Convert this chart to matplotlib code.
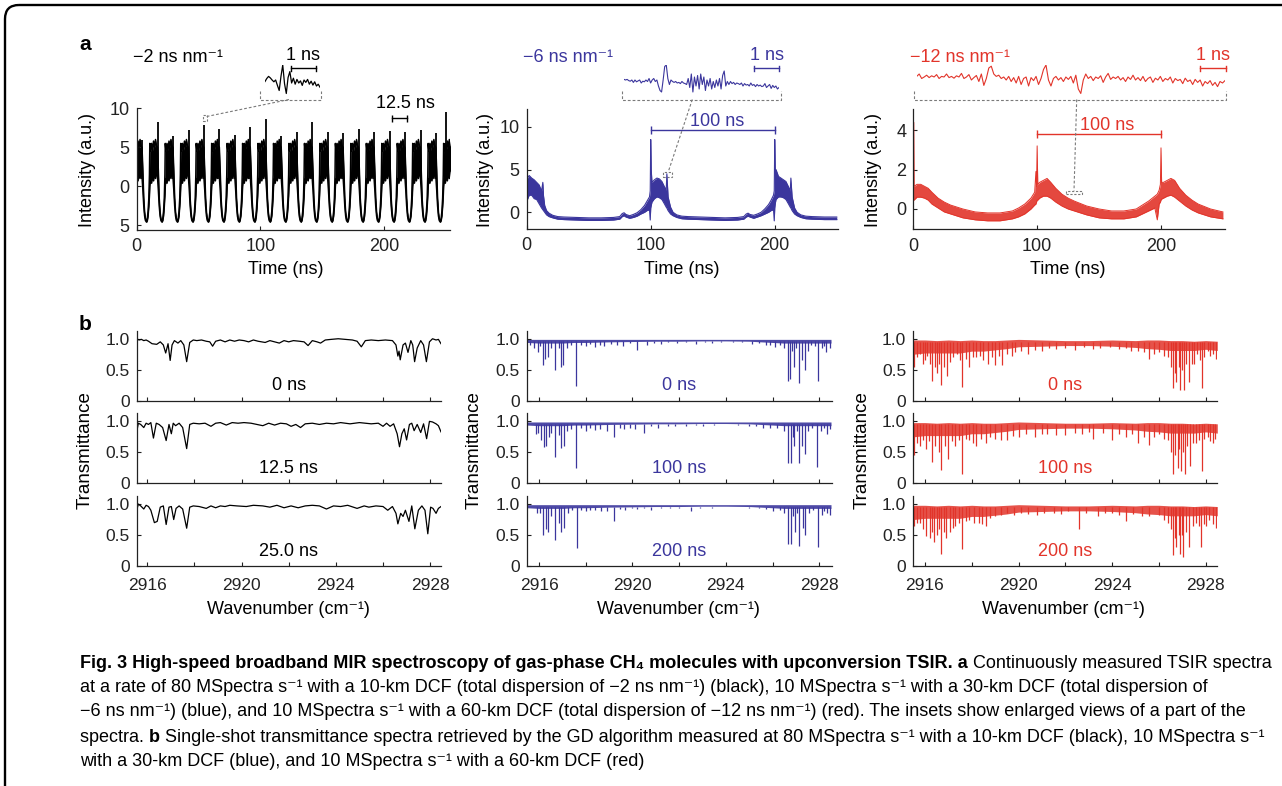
import matplotlib
matplotlib.use("Agg")
import matplotlib.pyplot as plt
from matplotlib.patches import FancyBboxPatch, Rectangle

W, H = 1282, 786
BLUE = "#3b369d"
RED = "#e2342a"
GRAY = "#7a7a7a"
AXC = "#222222"
FS = 13

plt.rcParams["font.family"] = ["Liberation Sans", "DejaVu Sans"]
plt.rcParams["axes.linewidth"] = 0.9
CAP_FONT = ["Liberation Sans Narrow", "DejaVu Sans Condensed", "Liberation Sans", "DejaVu Sans"]

# ---------------- panel a data ----------------
# a1 (-2 ns/nm): trough times, one-period shape (offset from trough) and spikes
a1_trough_t = [-4.5, 8.0, 20.5, 33.0, 45.5, 58.0, 70.5, 83.0, 95.5, 108.0, 120.5,
               133.0, 145.5, 158.0, 170.5, 183.0, 195.5, 208.0, 220.5, 233.0, 245.5]
a1_off = [0.0, 0.6, 1.2, 1.8, 2.3, 2.6, 3.2, 4.0, 4.8, 5.6, 6.4, 7.2, 8.0, 8.8, 9.5, 10.2, 10.9, 11.6, 12.5]
a1_lo = [-4.6, -4.4, -3.8, -2.6, -1.2, 0.0, 1.0, 0.4, 1.5, 0.7, 1.8, 1.0, 2.0, 1.2, -0.5, -2.5, -3.8, -4.4, -4.6]
a1_hi = [-4.4, -4.1, -3.2, -1.5, 1.5, 5.5, 4.5, 5.5, 4.6, 5.8, 5.0, 6.0, 5.2, 5.0, 2.0, -1.5, -3.3, -4.2, -4.4]
a1_spike_t = [0.4, 4.4, 16.9, 29.4, 41.9, 54.4, 66.9, 79.4, 91.9, 104.4, 116.9, 129.4, 141.9,
              154.4, 166.9, 179.4, 191.9, 204.4, 216.9, 229.4, 241.9, 250.0]
a1_spike_h = [7.0, 6.0, 8.2, 6.5, 7.2, 7.8, 7.4, 6.6, 7.6, 8.6, 6.4, 7.0, 8.2,
              7.0, 6.8, 7.3, 7.0, 7.1, 7.0, 7.2, 6.8, 9.5]

# a2 (-6 ns/nm): envelope of the trace
a2_t = [0, 0.3, 0.6, 2, 4, 6, 8, 10, 12, 13, 13.5, 14.5, 16, 18, 21, 25, 30, 40, 50, 60, 70, 75,
        77, 78.5, 80, 83, 86, 89, 92, 95, 97, 99, 99.6, 100, 100.4, 101, 103, 105, 107, 109,
        111, 112.5, 113, 114, 116, 118, 121, 125, 130, 140, 150, 160, 170, 175, 177, 178.5,
        180, 183, 186, 189, 192, 195, 197, 199, 199.6, 200, 200.4, 201, 203, 205, 207, 209,
        211, 212.5, 213, 214, 216, 218, 221, 225, 230, 240, 250]
a2_lo = [1.5, 1.0, 1.5, 2.0, 2.0, 1.6, 1.5, 1.0, 0.5, 0.3, 0.2, 0.0, -0.3, -0.5, -0.65, -0.8,
         -0.85, -0.9, -0.95, -0.95, -0.9, -0.8, -0.5, -0.4, -0.55, -0.7, -0.6, -0.45, -0.2,
         0.0, 0.2, 0.3, -0.9, 0.5, 0.8, 1.2, 1.6, 1.8, 1.7, 1.5, 1.0, 0.6, 0.5, 0.2, -0.2,
         -0.4, -0.6, -0.75, -0.8, -0.85, -0.9, -0.95, -0.9, -0.8, -0.55, -0.45, -0.55, -0.7,
         -0.55, -0.4, -0.2, 0.0, 0.2, 0.3, -1.0, 0.5, 1.0, 1.5, 1.8, 1.8, 1.7, 1.5, 1.0, 0.6,
         0.5, 0.2, -0.2, -0.4, -0.6, -0.75, -0.8, -0.85, -0.85]
a2_hi = [3.0, 10.5, 4.0, 4.3, 4.0, 3.8, 3.5, 3.2, 2.5, 3.5, 2.0, 0.8, 0.2, -0.1, -0.35, -0.5,
         -0.55, -0.6, -0.65, -0.65, -0.6, -0.5, -0.15, -0.05, -0.25, -0.4, -0.25, -0.05, 0.3,
         0.8, 1.3, 1.8, 2.5, 8.5, 5.0, 3.5, 3.8, 4.0, 3.9, 3.6, 3.0, 2.6, 4.5, 1.8, 0.6, 0.0,
         -0.3, -0.45, -0.5, -0.55, -0.6, -0.65, -0.6, -0.5, -0.2, -0.1, -0.25, -0.35, -0.2,
         0.0, 0.4, 0.9, 1.4, 2.0, 2.5, 8.5, 5.0, 5.0, 4.2, 4.0, 3.8, 3.6, 3.0, 2.5, 4.0, 1.8,
         0.5, 0.0, -0.3, -0.45, -0.5, -0.55, -0.55]

# a3 (-12 ns/nm): envelope of the trace
a3_t = [0, 0.3, 0.6, 3, 6, 9, 12, 15, 20, 25, 30, 40, 50, 60, 70, 80, 85, 90, 95, 98, 99,
        99.5, 100, 100.5, 102, 105, 108, 111, 115, 120, 125, 130, 140, 150, 160, 170, 180,
        185, 190, 195, 197, 198.5, 199.5, 200, 200.5, 202, 205, 208, 211, 215, 220, 225, 230,
        240, 250]
a3_lo = [0.45, 0.45, 0.45, 0.6, 0.6, 0.55, 0.45, 0.25, 0.05, -0.15, -0.25, -0.45, -0.55, -0.6, -0.6,
         -0.5, -0.4, -0.25, 0.0, 0.2, 0.25, 0.35, 0.45, 0.45, 0.55, 0.65, 0.65, 0.55, 0.35, 0.15,
         0.0, -0.1, -0.3, -0.45, -0.5, -0.5, -0.4, -0.25, -0.1, 0.05, -0.55, 0.25, 0.35,
         0.45, 0.5, 0.55, 0.65, 0.7, 0.6, 0.4, 0.15, -0.05, -0.2, -0.4, -0.5]
a3_hi = [1.15, 4.4, 1.15, 1.25, 1.25, 1.15, 1.05, 0.85, 0.55, 0.35, 0.2, 0.0, -0.15, -0.2, -0.2,
         -0.1, 0.05, 0.25, 0.55, 0.85, 1.9, 1.15, 3.2, 1.25, 1.35, 1.45, 1.55, 1.35, 1.05, 0.75, 0.55,
         0.4, 0.15, 0.0, -0.1, -0.1, 0.0, 0.2, 0.4, 0.65, 0.75, 0.95, 1.25, 3.1, 1.35, 1.35,
         1.45, 1.55, 1.45, 1.05, 0.7, 0.45, 0.25, 0.0, -0.15]

# insets (relative height inside the inset box)
a1_inset = [0.45, 0.55, 0.62, 0.57, 0.5, 0.44, 0.5, 0.32, 0.15, 0.62, 1.0, 0.38, 0.05, 0.58,
            0.78, 0.4, 0.56, 0.36, 0.52, 0.4, 0.47, 0.32, 0.5, 0.42, 0.52, 0.36, 0.46, 0.33,
            0.44, 0.3, 0.36, 0.26]
a2_inset = [0.52, 0.5, 0.52, 0.48, 0.46, 0.5, 0.42, 0.5, 0.44, 0.47, 0.5, 0.4, 0.46, 0.44,
            0.5, 0.45, 0.55, 0.4, 0.5, 0.55, 0.45, 0.5, 0.3, 0.15, 0.1, 0.5, 0.95, 1.0, 0.55,
            0.35, 0.5, 0.45, 0.42, 0.45, 0.4, 0.42, 0.38, 0.45, 0.4, 0.38, 0.35, 0.55, 0.25,
            0.7, 0.1, 0.6, 0.3, 0.65, 0.2, 0.7, 0.35, 0.6, 0.15, 0.5, 0.3, 0.55, 0.2, 0.45,
            0.25, 0.5, 0.3, 0.55, 0.2, 0.65, 0.8, 0.3, 0.45, 0.35, 0.45, 0.38, 0.42, 0.35,
            0.4, 0.38, 0.35, 0.4, 0.3, 0.38, 0.33, 0.35, 0.3, 0.4, 0.32, 0.35, 0.28, 0.35,
            0.3, 0.33, 0.28, 0.3, 0.38, 0.25, 0.3, 0.35, 0.22, 0.32, 0.25, 0.3, 0.2, 0.25]
a3_inset = [0.62, 0.7, 0.55, 0.6, 0.66, 0.58, 0.64, 0.6, 0.68, 0.55,
            0.62, 0.6, 0.7, 0.58, 0.62, 0.56, 0.64, 0.6, 0.72, 0.55,
            0.6, 0.68, 0.5, 0.58, 0.65, 0.45, 0.7, 0.32, 0.55, 0.9,
            0.96, 0.7, 0.62, 0.66, 0.55, 0.6, 0.5, 0.62, 0.45, 0.58,
            0.4, 0.62, 0.35, 0.55, 0.6, 0.3, 0.58, 0.48, 0.62, 0.35,
            0.55, 0.85, 1.0, 0.5, 0.3, 0.55, 0.62, 0.5, 0.58, 0.45,
            0.6, 0.52, 0.62, 0.4, 0.66, 0.2, 0.05, 0.5, 0.7, 0.55,
            0.62, 0.48, 0.6, 0.55, 0.64, 0.42, 0.6, 0.72, 0.52, 0.6,
            0.55, 0.62, 0.5, 0.58, 0.45, 0.6, 0.52, 0.66, 0.5, 0.58,
            0.48, 0.62, 0.45, 0.55, 0.6, 0.42, 0.56, 0.5, 0.62, 0.45,
            0.55, 0.5, 0.6, 0.4, 0.55, 0.48, 0.52, 0.38, 0.56, 0.45,
            0.5, 0.35, 0.52, 0.42, 0.5, 0.3, 0.45, 0.38, 0.48, 0.32,
            0.42, 0.28, 0.45, 0.4, 0.48]

# ---------------- panel b data ----------------
# black spectra (80 MSpectra/s): vertices of the traces
b1_wn0 = [2915.55, 2915.65, 2915.75, 2915.85, 2915.95, 2916.05, 2916.2, 2916.4, 2916.55, 2916.68,
          2916.78, 2916.88, 2916.97, 2917.05, 2917.15, 2917.3, 2917.42, 2917.55, 2917.67, 2917.8,
          2917.95, 2918.1, 2918.3, 2918.5, 2918.65, 2918.77, 2918.9, 2919.1, 2919.3, 2919.5,
          2919.7, 2919.9, 2920.1, 2920.3, 2920.5, 2920.7, 2921.0, 2921.2, 2921.4, 2921.6,
          2921.8, 2922.0, 2922.2, 2922.45, 2922.65, 2922.82, 2923.0, 2923.2, 2923.35, 2923.55,
          2923.8, 2924.1, 2924.4, 2924.7, 2924.9, 2925.08, 2925.25, 2925.5, 2925.8, 2926.1,
          2926.4, 2926.55, 2926.63, 2926.68, 2926.73, 2926.85, 2926.95, 2927.06, 2927.18, 2927.26,
          2927.34, 2927.45, 2927.6, 2927.72, 2927.84, 2927.97, 2928.1, 2928.25, 2928.35, 2928.46]
b1_T0 = [1.0, 0.98, 0.99, 0.97, 0.98, 0.96, 0.92, 0.91, 0.95, 0.9,
         0.77, 0.92, 0.65, 0.9, 0.97, 0.93, 0.97, 0.9, 0.63, 0.94,
         0.98, 0.97, 0.98, 0.96, 0.95, 0.88, 0.96, 0.98, 0.95, 0.98,
         0.96, 0.98, 0.97, 0.95, 0.98, 0.96, 0.94, 0.97, 0.95, 0.93,
         0.97, 0.95, 0.97, 0.96, 0.95, 0.89, 0.97, 0.95, 0.93, 0.98,
         0.99, 1.0, 0.99, 0.98, 0.96, 0.87, 0.97, 0.98, 0.97, 0.98,
         0.97, 0.9, 0.72, 0.8, 0.66, 0.9, 0.93, 0.78, 0.97, 0.9,
         0.63, 0.85, 0.97, 0.9, 0.63, 0.95, 1.0, 0.98, 0.99, 0.92]
b1_wn1 = [2915.55, 2915.62, 2915.72, 2915.85, 2915.95, 2916.05, 2916.15, 2916.26, 2916.38, 2916.5,
          2916.65, 2916.8, 2916.92, 2917.02, 2917.1, 2917.2, 2917.35, 2917.5, 2917.67, 2917.8,
          2917.95, 2918.2, 2918.45, 2918.7, 2918.9, 2919.1, 2919.35, 2919.6, 2919.85, 2920.1,
          2920.4, 2920.65, 2920.9, 2921.15, 2921.4, 2921.65, 2921.9, 2922.1, 2922.3, 2922.5,
          2922.7, 2923.0, 2923.3, 2923.6, 2923.9, 2924.2, 2924.6, 2925.0, 2925.5, 2925.8,
          2926.0, 2926.15, 2926.3, 2926.45, 2926.6, 2926.7, 2926.8, 2926.9, 2927.0, 2927.12,
          2927.22, 2927.32, 2927.45, 2927.6, 2927.72, 2927.85, 2927.97, 2928.1, 2928.25, 2928.35,
          2928.46]
b1_T1 = [0.83, 0.97, 0.95, 0.9, 0.97, 0.95, 0.98, 0.73, 0.97, 0.95,
         0.9, 0.69, 0.95, 0.8, 0.97, 0.93, 0.97, 0.9, 0.56, 0.95,
         0.97, 0.96, 0.97, 0.92, 0.97, 0.98, 0.94, 0.98, 0.97, 0.98,
         0.97, 0.95, 0.93, 0.97, 0.94, 0.97, 0.96, 0.92, 0.95, 0.9,
         0.96, 0.97, 0.95, 0.97, 0.96, 0.98, 0.96, 0.98, 0.96, 0.97,
         0.92, 0.97, 0.92, 0.96, 0.8, 0.59, 0.8, 0.88, 0.7, 0.95,
         0.97, 0.85, 0.95, 0.82, 0.96, 0.72, 1.0, 0.99, 0.96, 0.93,
         0.83]
b1_wn2 = [2915.55, 2915.62, 2915.72, 2915.85, 2915.95, 2916.05, 2916.15, 2916.3, 2916.42, 2916.55,
          2916.68, 2916.8, 2916.92, 2917.02, 2917.12, 2917.22, 2917.35, 2917.5, 2917.67, 2917.8,
          2917.95, 2918.2, 2918.5, 2918.7, 2918.9, 2919.1, 2919.3, 2919.5, 2919.8, 2920.2,
          2920.5, 2920.9, 2921.2, 2921.5, 2921.8, 2922.1, 2922.4, 2922.7, 2923.0, 2923.3,
          2923.6, 2923.9, 2924.2, 2924.5, 2924.9, 2925.2, 2925.4, 2925.7, 2926.0, 2926.2,
          2926.4, 2926.55, 2926.63, 2926.75, 2926.85, 2926.95, 2927.1, 2927.22, 2927.35, 2927.5,
          2927.65, 2927.78, 2927.9, 2928.02, 2928.12, 2928.25, 2928.35, 2928.46]
b1_T2 = [0.9, 1.0, 0.97, 0.92, 0.98, 0.96, 0.9, 0.7, 0.72, 0.95,
         0.97, 0.67, 0.95, 0.96, 0.75, 0.93, 0.97, 0.92, 0.61, 0.95,
         0.97, 0.96, 0.93, 0.97, 0.94, 0.97, 0.96, 0.98, 0.97, 0.96,
         0.98, 0.97, 0.95, 0.98, 0.94, 0.97, 0.94, 0.97, 0.98, 0.97,
         0.92, 0.97, 0.96, 0.98, 0.93, 0.97, 0.95, 0.97, 0.96, 0.9,
         0.96, 0.85, 0.68, 0.85, 0.8, 0.9, 0.72, 0.97, 0.6, 0.9,
         0.97, 0.9, 0.52, 0.95, 0.93, 0.85, 0.93, 0.96]

# blue spectra (10 MSpectra/s, 30-km DCF): baseline band + absorption dips (wn, T)
b2_env_wn = [2915.5, 2916, 2916.5, 2917, 2917.5, 2918, 2919, 2920, 2921, 2922, 2923, 2924,
             2925, 2926, 2926.5, 2927, 2927.5, 2928, 2928.5]
b2_env_lo = [0.94, 0.93, 0.93, 0.93, 0.94, 0.94, 0.95, 0.955, 0.96, 0.96, 0.965, 0.965,
             0.96, 0.94, 0.93, 0.93, 0.93, 0.93, 0.93]
b2_env_hi = [0.99, 0.99, 0.99, 0.99, 0.99, 0.99, 0.99, 0.99, 0.99, 0.99, 0.99, 0.99,
             0.99, 0.99, 0.99, 0.99, 0.99, 0.99, 0.99]
b2_dips0 = [(2915.6, 0.9), (2915.8, 0.85), (2915.95, 0.78), (2916.05, 0.88), (2916.16, 0.57),
            (2916.26, 0.68), (2916.38, 0.7), (2916.5, 0.85), (2916.7, 0.5), (2916.85, 0.85),
            (2916.94, 0.55), (2917.03, 0.57), (2917.2, 0.85), (2917.35, 0.9), (2917.6, 0.24),
            (2917.8, 0.9), (2918.0, 0.88), (2918.2, 0.92), (2918.4, 0.86), (2918.6, 0.9),
            (2918.8, 0.88), (2919.1, 0.92), (2919.35, 0.9), (2919.6, 0.89), (2919.9, 0.93),
            (2920.2, 0.82), (2920.6, 0.9), (2920.9, 0.93), (2921.2, 0.92), (2921.5, 0.94),
            (2921.9, 0.93), (2922.3, 0.94), (2922.7, 0.92), (2923.1, 0.94), (2923.4, 0.93),
            (2923.8, 0.95), (2924.3, 0.94), (2924.7, 0.95), (2925.1, 0.92), (2925.4, 0.93),
            (2925.7, 0.9), (2925.9, 0.9), (2926.1, 0.87), (2926.3, 0.9), (2926.5, 0.85),
            (2926.65, 0.32), (2926.75, 0.35), (2926.85, 0.8), (2926.92, 0.55), (2927.02, 0.85),
            (2927.12, 0.28), (2927.25, 0.65), (2927.4, 0.5), (2927.5, 0.8), (2927.65, 0.9),
            (2927.8, 0.88), (2927.95, 0.32), (2928.1, 0.85), (2928.2, 0.88), (2928.3, 0.78),
            (2928.45, 0.85)]
b2_dips1 = [(2915.6, 0.95), (2915.85, 0.8), (2915.95, 0.82), (2916.1, 0.7), (2916.2, 0.58),
            (2916.3, 0.6), (2916.42, 0.75), (2916.5, 0.82), (2916.7, 0.43), (2916.85, 0.78),
            (2916.95, 0.57), (2917.05, 0.6), (2917.2, 0.85), (2917.35, 0.88), (2917.6, 0.24),
            (2917.8, 0.9), (2918.0, 0.85), (2918.2, 0.9), (2918.4, 0.86), (2918.6, 0.88),
            (2918.9, 0.85), (2919.2, 0.75), (2919.45, 0.9), (2919.65, 0.88), (2919.9, 0.9),
            (2920.1, 0.88), (2920.5, 0.82), (2920.8, 0.92), (2921.1, 0.9), (2921.5, 0.92),
            (2921.8, 0.93), (2922.3, 0.93), (2922.7, 0.94), (2923.0, 0.93), (2923.5, 0.94),
            (2924.0, 0.95), (2924.5, 0.94), (2925.0, 0.92), (2925.3, 0.93), (2925.6, 0.9),
            (2925.9, 0.9), (2926.2, 0.9), (2926.5, 0.85), (2926.67, 0.32), (2926.77, 0.33),
            (2926.87, 0.75), (2926.93, 0.6), (2927.03, 0.85), (2927.12, 0.33), (2927.25, 0.6),
            (2927.4, 0.48), (2927.52, 0.85), (2927.7, 0.9), (2927.92, 0.26), (2928.08, 0.85),
            (2928.2, 0.9), (2928.32, 0.8), (2928.45, 0.88)]
b2_dips2 = [(2915.6, 0.95), (2915.9, 0.85), (2916.05, 0.85), (2916.18, 0.5), (2916.28, 0.6),
            (2916.38, 0.55), (2916.5, 0.8), (2916.7, 0.42), (2916.85, 0.7), (2916.95, 0.55),
            (2917.08, 0.62), (2917.25, 0.85), (2917.4, 0.9), (2917.62, 0.29), (2917.8, 0.9),
            (2918.0, 0.88), (2918.2, 0.9), (2918.4, 0.9), (2918.65, 0.88), (2918.9, 0.88),
            (2919.2, 0.73), (2919.45, 0.92), (2919.7, 0.9), (2920.0, 0.93), (2920.2, 0.92),
            (2920.5, 0.93), (2920.8, 0.9), (2921.2, 0.93), (2921.6, 0.93), (2922.0, 0.94),
            (2922.5, 0.88), (2922.9, 0.94), (2923.4, 0.94), (2924.0, 0.95), (2924.5, 0.95),
            (2925.0, 0.94), (2925.4, 0.93), (2925.7, 0.92), (2926.0, 0.88), (2926.3, 0.9),
            (2926.5, 0.85), (2926.67, 0.35), (2926.77, 0.36), (2926.87, 0.8), (2926.95, 0.55),
            (2927.05, 0.85), (2927.12, 0.33), (2927.28, 0.62), (2927.4, 0.5), (2927.55, 0.85),
            (2927.72, 0.9), (2927.93, 0.3), (2928.1, 0.82), (2928.22, 0.88), (2928.32, 0.85),
            (2928.45, 0.82)]

# red spectra (10 MSpectra/s, 60-km DCF): noisy band + absorption dips
b3_env_wn = [2915.5, 2916, 2916.5, 2917, 2917.5, 2918, 2918.5, 2919, 2919.5, 2920, 2921, 2922,
             2923, 2924, 2925, 2925.5, 2926, 2926.5, 2927, 2927.5, 2928, 2928.5]
b3_env_lo = [0.75, 0.77, 0.77, 0.77, 0.77, 0.8, 0.8, 0.82, 0.84, 0.87, 0.88, 0.89,
             0.89, 0.88, 0.86, 0.84, 0.83, 0.81, 0.81, 0.81, 0.83, 0.81]
b3_env_hi = [0.98, 0.98, 0.97, 0.98, 0.97, 0.98, 0.97, 0.97, 0.98, 0.99, 0.98, 0.97,
             0.97, 0.98, 0.97, 0.98, 0.98, 0.97, 0.97, 0.96, 0.97, 0.96]
b3_dips0 = [(2915.55, 0.55), (2915.65, 0.7), (2915.8, 0.75), (2915.9, 0.6), (2916.0, 0.65),
            (2916.1, 0.72), (2916.2, 0.6), (2916.3, 0.32), (2916.42, 0.55), (2916.5, 0.45),
            (2916.6, 0.6), (2916.7, 0.25), (2916.82, 0.55), (2916.95, 0.4), (2917.05, 0.62),
            (2917.2, 0.7), (2917.35, 0.75), (2917.5, 0.65), (2917.6, 0.22), (2917.75, 0.68),
            (2917.9, 0.55), (2918.05, 0.7), (2918.2, 0.7), (2918.35, 0.72), (2918.5, 0.65),
            (2918.7, 0.6), (2918.85, 0.7), (2919.0, 0.58), (2919.15, 0.72), (2919.3, 0.58),
            (2919.5, 0.75), (2919.7, 0.72), (2919.85, 0.78), (2920.1, 0.8), (2920.4, 0.75),
            (2920.7, 0.82), (2921.0, 0.8), (2921.3, 0.85), (2921.6, 0.83), (2922.0, 0.85),
            (2922.4, 0.82), (2922.8, 0.86), (2923.2, 0.84), (2923.5, 0.85), (2923.9, 0.86),
            (2924.3, 0.83), (2924.6, 0.85), (2924.8, 0.8), (2925.1, 0.8), (2925.35, 0.78),
            (2925.6, 0.67), (2925.8, 0.75), (2926.0, 0.78), (2926.2, 0.72), (2926.4, 0.7),
            (2926.5, 0.55), (2926.6, 0.2), (2926.68, 0.45), (2926.75, 0.3), (2926.85, 0.55),
            (2926.92, 0.18), (2927.0, 0.5), (2927.08, 0.18), (2927.18, 0.6), (2927.3, 0.3),
            (2927.42, 0.6), (2927.5, 0.6), (2927.62, 0.75), (2927.75, 0.65), (2927.85, 0.2),
            (2927.95, 0.7), (2928.1, 0.8), (2928.2, 0.72), (2928.3, 0.75), (2928.45, 0.68)]
b3_dips1 = [(2915.55, 0.45), (2915.65, 0.65), (2915.8, 0.6), (2915.9, 0.7), (2916.05, 0.55),
            (2916.15, 0.68), (2916.3, 0.35), (2916.42, 0.6), (2916.6, 0.5), (2916.7, 0.22),
            (2916.85, 0.6), (2917.0, 0.4), (2917.15, 0.68), (2917.3, 0.6), (2917.45, 0.7),
            (2917.6, 0.15), (2917.75, 0.72), (2917.9, 0.7), (2918.05, 0.65), (2918.2, 0.6),
            (2918.4, 0.72), (2918.6, 0.65), (2918.8, 0.75), (2919.0, 0.72), (2919.25, 0.7),
            (2919.5, 0.7), (2919.75, 0.76), (2920.0, 0.75), (2920.3, 0.8), (2920.7, 0.75),
            (2921.0, 0.8), (2921.2, 0.8), (2921.6, 0.78), (2922.0, 0.78), (2922.4, 0.82),
            (2922.7, 0.8), (2923.0, 0.83), (2923.2, 0.72), (2923.6, 0.82), (2924.0, 0.7),
            (2924.3, 0.8), (2924.6, 0.75), (2924.85, 0.8), (2925.1, 0.65), (2925.35, 0.75),
            (2925.6, 0.62), (2925.8, 0.75), (2926.0, 0.8), (2926.2, 0.72), (2926.4, 0.7),
            (2926.5, 0.5), (2926.6, 0.15), (2926.7, 0.45), (2926.8, 0.25), (2926.88, 0.55),
            (2926.95, 0.2), (2927.02, 0.5), (2927.1, 0.15), (2927.2, 0.6), (2927.35, 0.28),
            (2927.48, 0.65), (2927.6, 0.65), (2927.72, 0.7), (2927.85, 0.2), (2927.95, 0.72),
            (2928.1, 0.75), (2928.2, 0.68), (2928.3, 0.65), (2928.42, 0.72)]
b3_dips2 = [(2915.55, 0.65), (2915.65, 0.7), (2915.8, 0.7), (2915.9, 0.6), (2916.05, 0.48),
            (2916.2, 0.45), (2916.3, 0.55), (2916.4, 0.38), (2916.5, 0.5), (2916.6, 0.6),
            (2916.7, 0.2), (2916.82, 0.55), (2916.9, 0.45), (2917.05, 0.55), (2917.2, 0.62),
            (2917.3, 0.65), (2917.45, 0.7), (2917.6, 0.27), (2917.75, 0.72), (2917.9, 0.75),
            (2918.1, 0.7), (2918.3, 0.7), (2918.45, 0.68), (2918.6, 0.65), (2918.8, 0.78),
            (2919.0, 0.8), (2919.25, 0.82), (2919.5, 0.85), (2919.8, 0.82), (2920.1, 0.85),
            (2920.4, 0.84), (2920.8, 0.82), (2921.1, 0.86), (2921.5, 0.85), (2921.8, 0.84),
            (2922.1, 0.88), (2922.6, 0.6), (2922.9, 0.86), (2923.4, 0.8), (2923.7, 0.86),
            (2924.0, 0.85), (2924.3, 0.82), (2924.6, 0.72), (2924.9, 0.84), (2925.3, 0.8),
            (2925.6, 0.8), (2926.0, 0.82), (2926.2, 0.75), (2926.4, 0.7), (2926.5, 0.6),
            (2926.6, 0.18), (2926.68, 0.45), (2926.75, 0.3), (2926.85, 0.5), (2926.9, 0.2),
            (2926.98, 0.5), (2927.05, 0.15), (2927.15, 0.55), (2927.3, 0.3), (2927.45, 0.65),
            (2927.6, 0.7), (2927.7, 0.65), (2927.8, 0.3), (2927.92, 0.68), (2928.0, 0.65),
            (2928.15, 0.75), (2928.3, 0.68), (2928.45, 0.62)]

a_texts = ["\u22122 ns nm\u207b\u00b9", "\u22126 ns nm\u207b\u00b9", "\u221212 ns nm\u207b\u00b9"]
b_row_labels = [["0 ns", "12.5 ns", "25.0 ns"],
                ["0 ns", "100 ns", "200 ns"],
                ["0 ns", "100 ns", "200 ns"]]

caption = [
    [("Fig. 3 High-speed broadband MIR spectroscopy of gas-phase CH\u2084 molecules with upconversion TSIR. a", True),
     (" Continuously measured TSIR spectra", False)],
    [("at a rate of 80 MSpectra s\u207b\u00b9 with a 10-km DCF (total dispersion of \u22122 ns nm\u207b\u00b9) (black), "
      "10 MSpectra s\u207b\u00b9 with a 30-km DCF (total dispersion of", False)],
    [("\u22126 ns nm\u207b\u00b9) (blue), and 10 MSpectra s\u207b\u00b9 with a 60-km DCF (total dispersion of "
      "\u221212 ns nm\u207b\u00b9) (red). The insets show enlarged views of a part of the", False)],
    [("spectra. ", False), ("b", True),
     (" Single-shot transmittance spectra retrieved by the GD algorithm measured at 80 MSpectra s\u207b\u00b9 "
      "with a 10-km DCF (black), 10 MSpectra s\u207b\u00b9", False)],
    [("with a 30-km DCF (blue), and 10 MSpectra s\u207b\u00b9 with a 60-km DCF (red)", False)],
]

# ---------------- figure ----------------
fig = plt.figure(figsize=(W / 100, H / 100), dpi=100)


def box(l, t, r, b):
    return [l / W, 1 - b / H, (r - l) / W, (b - t) / H]


def style_axes(ax, xpad=6, size=FS):
    for s in ["top", "right"]:
        ax.spines[s].set_visible(False)
    for s in ["left", "bottom"]:
        ax.spines[s].set_color(AXC)
    ax.tick_params(direction="in", length=3, width=0.8, colors=AXC, labelsize=size)
    ax.tick_params(axis="x", pad=xpad)
    ax.tick_params(axis="y", pad=5)
    ax.patch.set_alpha(0)


# a1
ax1 = fig.add_axes(box(136.7, 108.3, 449.7, 230))
t_all, lo_all, hi_all = [], [], []
for tm in a1_trough_t:
    for off, lo, hi in zip(a1_off, a1_lo, a1_hi):
        t_all.append(tm + off)
        lo_all.append(lo)
        hi_all.append(hi)
ax1.fill_between(t_all, lo_all, hi_all, color="black", lw=0)
ax1.plot(t_all, lo_all, color="black", lw=1.1)
ax1.plot(t_all, hi_all, color="black", lw=1.1)
ax1.vlines(a1_spike_t, 1.0, a1_spike_h, color="black", lw=1.3)
ax1.set_xlim(0, 253)
ax1.set_ylim(-5.6, 10)
ax1.set_yticks([-5, 0, 5, 10])
ax1.set_yticklabels(["5", "0", "5", "10"])
ax1.set_xticks([0, 100, 200])
ax1.add_patch(Rectangle((53.8, 8.4), 2.8, 0.75, fill=False, ec=GRAY, lw=0.8, ls=(0, (2, 1.5)), clip_on=False))
ax1.plot([206, 218.5], [8.7, 8.7], color="black", lw=1.0, clip_on=False)
ax1.vlines([206, 218.5], 8.3, 9.1, color="black", lw=1.0, clip_on=False)
style_axes(ax1)

# a2
ax2 = fig.add_axes(box(526.7, 109, 838, 229))
ax2.fill_between(a2_t, a2_lo, a2_hi, color=BLUE, lw=0)
ax2.plot(a2_t, a2_lo, color=BLUE, lw=0.8)
ax2.plot(a2_t, a2_hi, color=BLUE, lw=0.8)
ax2.set_xlim(0, 251)
ax2.set_ylim(-1.95, 12.07)
ax2.set_yticks([0, 5, 10])
ax2.set_xticks([0, 100, 200])
ax2.plot([100, 200], [9.6, 9.6], color=BLUE, lw=1.0)
ax2.vlines([100, 200], 9.1, 10.1, color=BLUE, lw=1.0)
ax2.add_patch(Rectangle((110, 4.16), 7.4, 0.58, fill=False, ec=GRAY, lw=0.8, ls=(0, (2, 1.5))))
style_axes(ax2)

# a3
ax3 = fig.add_axes(box(913.3, 109, 1225.4, 229.3))
ax3.fill_between(a3_t, a3_lo, a3_hi, color=RED, lw=0, alpha=0.9)
ax3.plot(a3_t, a3_lo, color=RED, lw=0.7)
ax3.plot(a3_t, a3_hi, color=RED, lw=0.7)
ax3.set_xlim(0, 252)
ax3.set_ylim(-1.03, 5.07)
ax3.set_yticks([0, 2, 4])
ax3.set_xticks([0, 100, 200])
ax3.plot([100, 200], [3.79, 3.79], color=RED, lw=1.0)
ax3.vlines([100, 200], 3.58, 4.0, color=RED, lw=1.0)
ax3.add_patch(Rectangle((123.3, 0.75), 12.7, 0.18, fill=False, ec=GRAY, lw=0.8, ls=(0, (2, 1.5))))
style_axes(ax3)

# insets
for (l, r, vals, col) in [(265, 320, a1_inset, "black"), (624, 779, a2_inset, BLUE),
                          (916.7, 1225, a3_inset, RED)]:
    axi = fig.add_axes(box(l, 65, r, 95))
    axi.plot(range(len(vals)), vals, color=col, lw=0.9 if col == "black" else 0.8)
    axi.set_xlim(0, len(vals) - 1)
    axi.set_ylim(0, 1)
    axi.axis("off")

# panel b
rows = [(330.7, 400.7), (413.3, 483.3), (496, 566)]
cols = [(136.7, 441, 2915.55, 2928.46), (526.7, 831.7, 2915.47, 2928.53), (913.3, 1217.3, 2915.5, 2928.5)]
black_rows = [(b1_wn0, b1_T0), (b1_wn1, b1_T1), (b1_wn2, b1_T2)]
blue_rows = [b2_dips0, b2_dips1, b2_dips2]
red_rows = [b3_dips0, b3_dips1, b3_dips2]

for ci, (l, r, x0, x1) in enumerate(cols):
    for ri, (t, b) in enumerate(rows):
        ax = fig.add_axes(box(l, t, r, b))
        if ci == 0:
            wn, tr = black_rows[ri]
            ax.plot(wn, tr, color="black", lw=0.9)
        elif ci == 1:
            ax.fill_between(b2_env_wn, b2_env_lo, b2_env_hi, color=BLUE, lw=0, alpha=0.9)
            d = blue_rows[ri]
            ax.vlines([p[0] for p in d], [p[1] for p in d], 0.96, color=BLUE, lw=0.9)
        else:
            ax.fill_between(b3_env_wn, b3_env_lo, b3_env_hi, color=RED, lw=0, alpha=0.85)
            d = red_rows[ri]
            ax.vlines([p[0] for p in d], [p[1] for p in d], 0.95, color=RED, lw=0.9)
        ax.set_xlim(x0, x1)
        ax.set_ylim(0, 1.13)
        ax.set_yticks([0, 0.5, 1.0])
        ax.set_yticklabels(["0", "0.5", "1.0"])
        ax.set_xticks([2916, 2920, 2924, 2928])
        ax.set_xticks([2918, 2922, 2926], minor=True)
        style_axes(ax, xpad=9, size=12.5)
        ax.tick_params(which="minor", direction="in", length=3, width=0.8, colors=AXC)
        if ri < 2:
            ax.set_xticklabels([])
        col = ["black", BLUE, RED][ci]
        ax.text(0.5 * (x0 + x1), 0.24, b_row_labels[ci][ri], color=col, fontsize=FS,
                ha="center", va="center")

# overlay in pixel coordinates for labels and annotations
ov = fig.add_axes([0, 0, 1, 1])
ov.set_xlim(0, W)
ov.set_ylim(H, 0)
ov.axis("off")

ov.add_patch(FancyBboxPatch((5, 5), 1400, 900, boxstyle="round,pad=0,rounding_size=14",
                            fill=False, ec="black", lw=1.7))

ov.text(85, 45, "a", fontsize=15, fontweight="bold", ha="center", va="center")
ov.text(85, 324, "b", fontsize=15, fontweight="bold", ha="center", va="center")

for x, s, col in [(133, a_texts[0], "black"), (522.7, a_texts[1], BLUE), (910, a_texts[2], RED)]:
    ov.text(x, 57, s, fontsize=FS, color=col, ha="left", va="center")

# 1 ns scale bars over the insets
for (xa, xb, col) in [(290.7, 316, "black"), (754, 779.3, BLUE), (1200, 1225.7, RED)]:
    ov.text(0.5 * (xa + xb), 56, "1 ns", fontsize=FS, color=col, ha="center", va="center")
    ov.plot([xa, xb], [68, 68], color=col, lw=1.0)
    ov.plot([xa, xa], [65.5, 70.5], color=col, lw=1.0)
    ov.plot([xb, xb], [65.5, 70.5], color=col, lw=1.0)

ov.text(405, 104, "12.5 ns", fontsize=FS, ha="center", va="center")
ov.text(716.7, 121, "100 ns", fontsize=FS, color=BLUE, ha="center", va="center")
ov.text(1106.7, 126, "100 ns", fontsize=FS, color=RED, ha="center", va="center")

dash = (0, (2.5, 1.8))
for (xa, xb) in [(260, 321), (621.7, 781), (914.3, 1225.7)]:
    ov.plot([xa, xa, xb, xb], [91, 99.5, 99.5, 91], color=GRAY, lw=0.8, ls=dash)
ov.plot([206.7, 289], [116.5, 99.5], color=GRAY, lw=0.8, ls=dash)
ov.plot([692.3, 668.3], [99.5, 171.7], color=GRAY, lw=0.8, ls=dash)
ov.plot([1076.7, 1074], [99.5, 190.7], color=GRAY, lw=0.8, ls=dash)

for x in [88, 485, 873]:
    ov.text(x, 170, "Intensity (a.u.)", fontsize=FS, rotation=90, ha="center", va="center")
for x in [286, 682, 1068]:
    ov.text(x, 270, "Time (ns)", fontsize=FS, ha="center", va="center")
for x in [85, 474, 862]:
    ov.text(x, 450, "Transmittance", fontsize=FS + 0.5, rotation=90, ha="center", va="center")
for x in [288, 678, 1063]:
    ov.text(x, 610, "Wavenumber (cm\u207b\u00b9)", fontsize=FS, ha="center", va="center")

# caption, sized so that its widest line spans the box
renderer = fig.canvas.get_renderer()


def line_width(pieces, size):
    w = 0
    for s, bold in pieces:
        p = ov.text(0, 0, s, fontsize=size, family=CAP_FONT, fontweight="bold" if bold else "normal")
        w += p.get_window_extent(renderer).width
        p.remove()
    return w


widest = max(line_width(p, 11) for p in caption)
cap_size = 11 * 1196 / widest

for y, pieces in zip([662, 686, 710, 735, 759], caption):
    x = 80
    for s, bold in pieces:
        t = ov.text(x, y, s, fontsize=cap_size, family=CAP_FONT,
                    fontweight="bold" if bold else "normal", ha="left", va="center_baseline")
        x += t.get_window_extent(renderer).width

fig.savefig("out.png", dpi=100)
